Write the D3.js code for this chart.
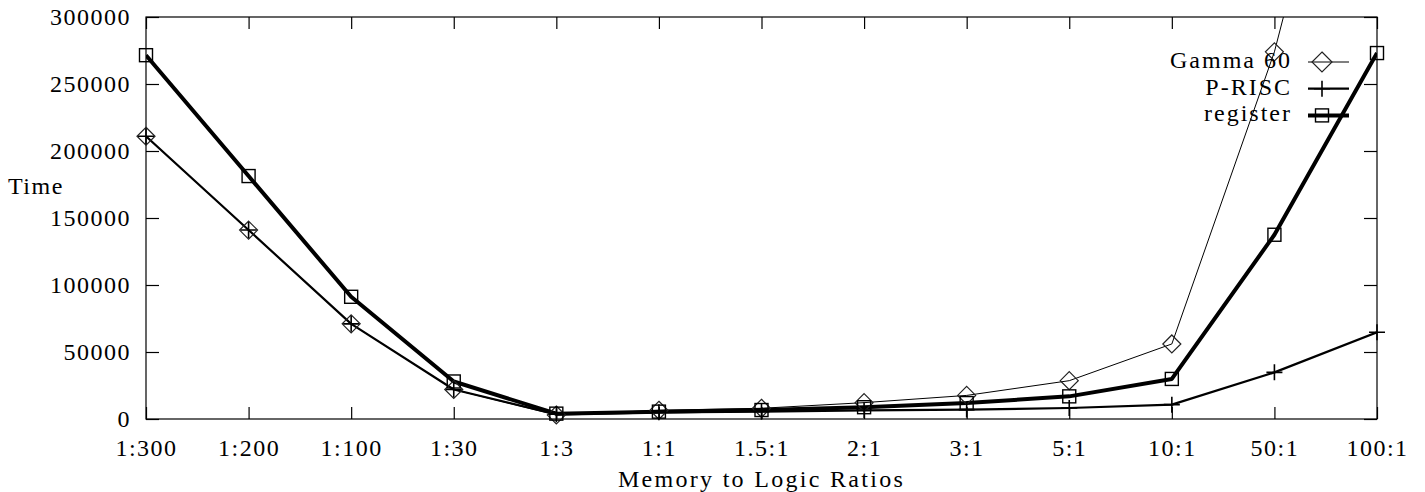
<!DOCTYPE html>
<html>
<head>
<meta charset="utf-8">
<script src="https://cdn.jsdelivr.net/npm/d3@7"></script>
<style>
  html, body { margin: 0; padding: 0; background: #fff; }
  svg { display: block; }
  svg text { font-family: "Liberation Serif", Tinos, "Times New Roman", Times, "DejaVu Serif", serif !important; font-size: 24px; fill: #000; letter-spacing: 1.5px; }
</style>
</head>
<body>
<svg id="chart" width="1425" height="492"></svg>
<script>
// ---- data ----
const categories = ["1:300", "1:200", "1:100", "1:30", "1:3", "1:1", "1.5:1", "2:1", "3:1", "5:1", "10:1", "50:1", "100:1"];
const gamma60  = [211000, 141000, 71000, 22000, 3000, 6500, 8000, 12200, 17600, 28600, 56000, 274000, 570000];
const pRisc    = [211000, 141000, 71000, 22000, 3500, 5000, 5500, 6500, 7000, 8200, 10700, 34800, 64700];
const register = [271500, 181300, 91200, 28000, 4000, 5500, 6700, 8800, 11900, 16900, 29900, 137500, 273100];
const yTicks = [0, 50000, 100000, 150000, 200000, 250000, 300000];
const seriesNames = ["Gamma 60", "P-RISC", "register"];

// ---- layout ----
const svg = d3.select("#chart");
const L = 146, R = 1377, T = 17, B = 419;
const x = d3.scalePoint().domain(categories).range([L, R]);
const y = d3.scaleLinear().domain([0, 300000]).range([B, T]);

const styles = [
  { values: gamma60, width: 1, marker: "diamond" },
  { values: pRisc, width: 2.2, marker: "plus" },
  { values: register, width: 4, marker: "square" }
];

svg.append("defs").append("clipPath").attr("id", "plotClip")
  .append("rect").attr("x", L).attr("y", T).attr("width", R - L).attr("height", B - T);

const axL = svg.append("g").attr("transform", `translate(${L},0)`)
  .call(d3.axisLeft(y).tickValues(yTicks).tickFormat(d3.format("d")).tickSize(-13).tickPadding(15));
const axR = svg.append("g").attr("transform", `translate(${R},0)`)
  .call(d3.axisRight(y).tickValues(yTicks).tickFormat("").tickSize(-13));
const axB = svg.append("g").attr("transform", `translate(0,${B})`)
  .call(d3.axisBottom(x).tickSize(-12).tickPadding(20));
const axT = svg.append("g").attr("transform", `translate(0,${T})`)
  .call(d3.axisTop(x).tickFormat("").tickSize(-12));
[axL, axR, axB, axT].forEach(g => {
  g.attr("font-family", null).attr("font-size", null);
  g.select(".domain").remove();
  g.selectAll("line").attr("stroke", "#000").attr("stroke-width", 1.2);
  g.selectAll("text").attr("fill", "#000");
});
svg.append("rect").attr("x", L).attr("y", T).attr("width", R - L).attr("height", B - T)
  .attr("fill", "none").attr("stroke", "#000").attr("stroke-width", 1.2);

svg.append("text").attr("x", 8).attr("y", 194).text("Time");
svg.append("text").attr("x", (L + R) / 2).attr("y", 487).attr("text-anchor", "middle")
  .style("letter-spacing", "2.3px").text("Memory to Logic Ratios");

function drawMarker(g, type, cx, cy, big) {
  if (type === "diamond") {
    const r = big ? 10 : 9;
    g.append("path").attr("d", `M${cx},${cy - r}L${cx + r},${cy}L${cx},${cy + r}L${cx - r},${cy}Z`)
      .attr("fill", "none").attr("stroke", "#222").attr("stroke-width", 1.2);
  } else if (type === "plus") {
    const r = 8;
    g.append("path").attr("d", `M${cx - r},${cy}H${cx + r}M${cx},${cy - r}V${cy + r}`)
      .attr("fill", "none").attr("stroke", "#000").attr("stroke-width", 1.6);
  } else {
    const r = 6.5;
    g.append("rect").attr("x", cx - r).attr("y", cy - r).attr("width", 2 * r).attr("height", 2 * r)
      .attr("fill", "none").attr("stroke", "#000").attr("stroke-width", 1.4);
  }
}

const line = d3.line().x((d, i) => x(categories[i])).y(d => y(d));
styles.forEach(s => {
  svg.append("path").datum(s.values).attr("d", line)
    .attr("clip-path", "url(#plotClip)")
    .attr("fill", "none").attr("stroke", "#000").attr("stroke-width", s.width)
    .attr("stroke-linejoin", "round");
});
styles.forEach(s => {
  const g = svg.append("g");
  s.values.forEach((v, i) => {
    if (v <= 300000) drawMarker(g, s.marker, x(categories[i]), y(v), false);
  });
});

const legX = 1292, legY0 = 62, legDy = 26.7;
styles.forEach((s, i) => {
  const cy = legY0 + i * legDy;
  svg.append("text").attr("x", legX).attr("y", cy + 6).attr("text-anchor", "end")
    .style("letter-spacing", "2px").text(seriesNames[i]);
  svg.append("line").attr("x1", 1308).attr("x2", 1349).attr("y1", cy).attr("y2", cy)
    .attr("stroke", "#000").attr("stroke-width", s.width);
  drawMarker(svg.append("g"), s.marker, 1322, cy, true);
});
</script>
</body>
</html>
